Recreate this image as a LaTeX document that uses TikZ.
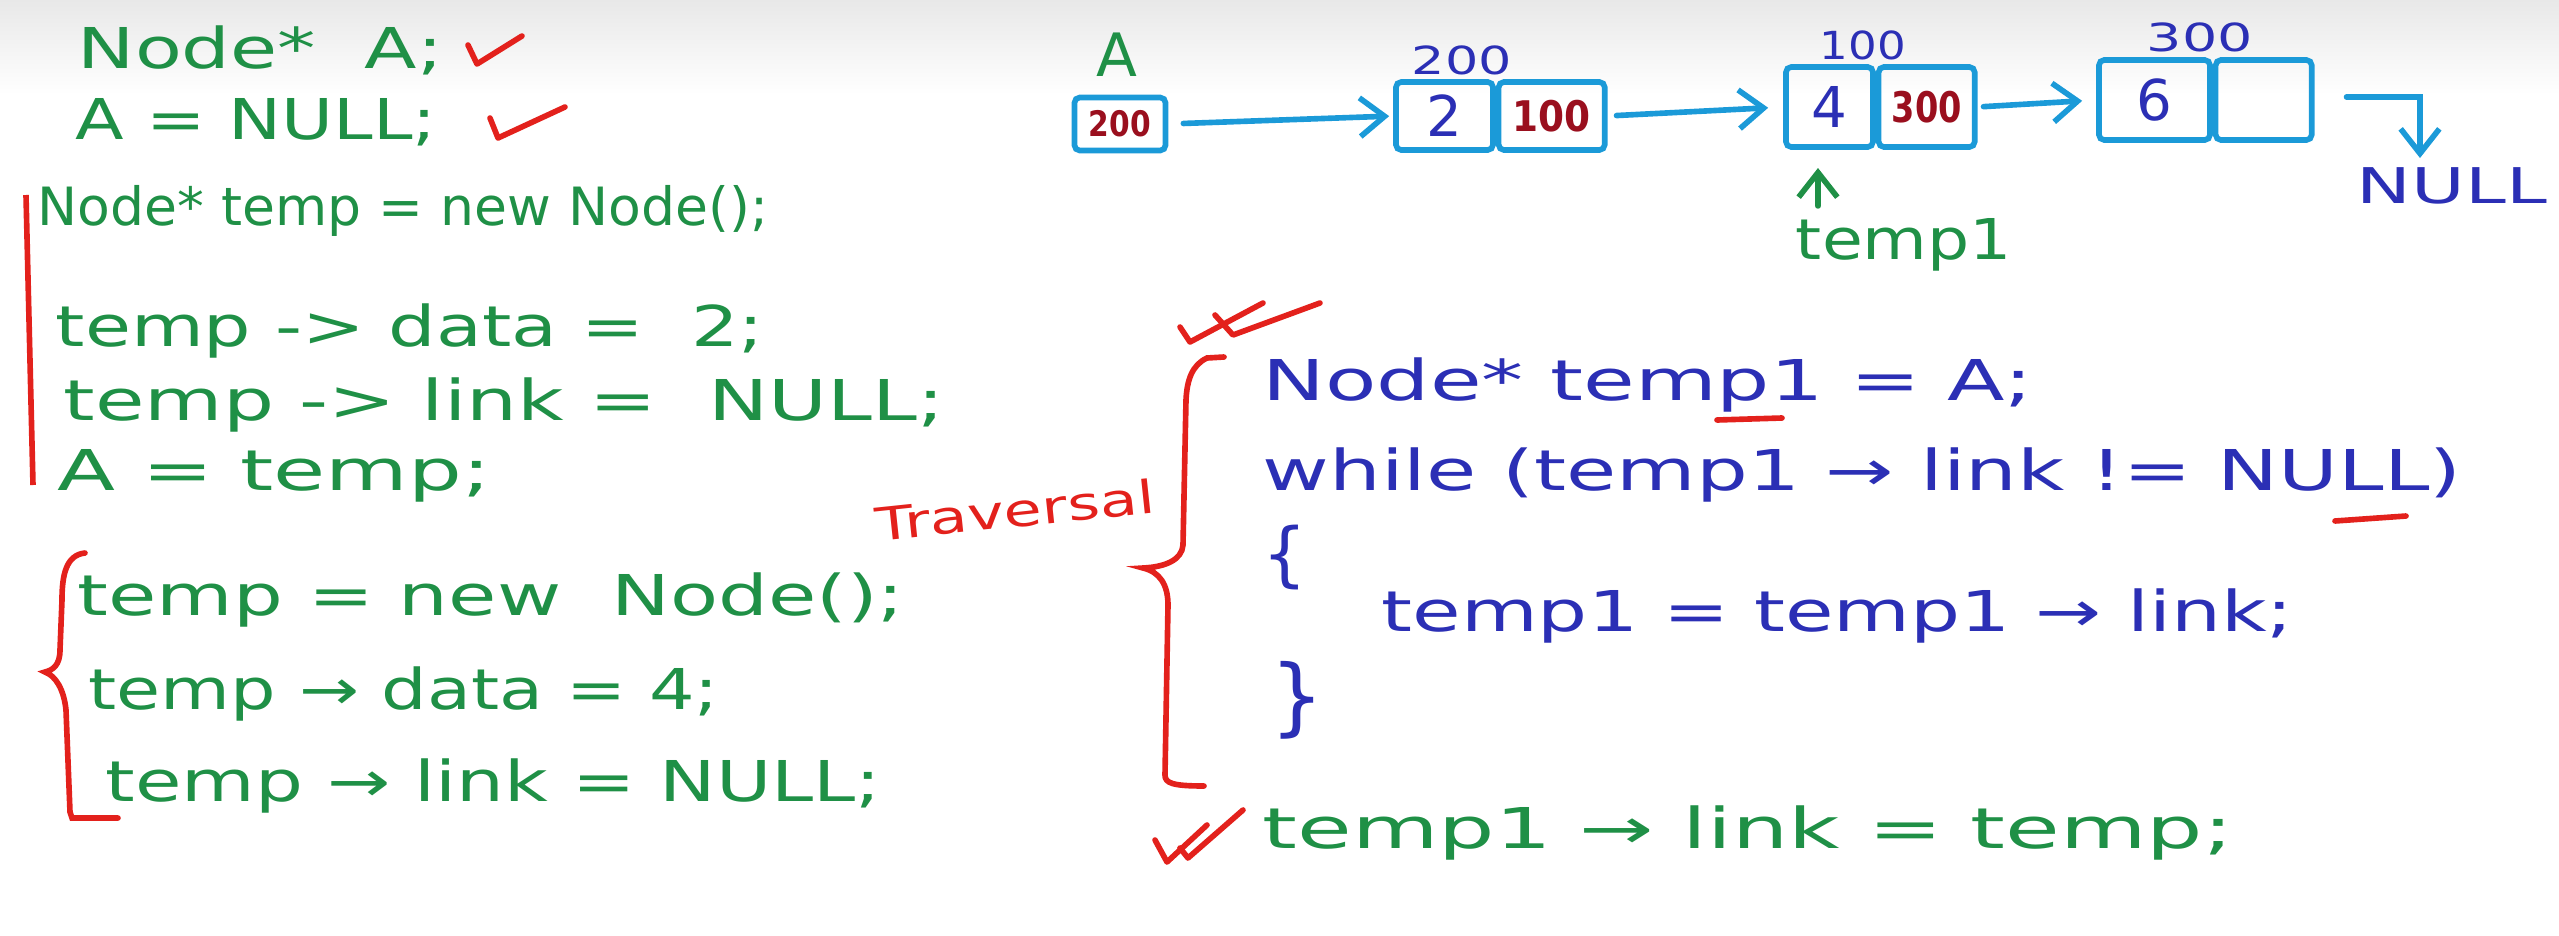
\documentclass[tikz,border=0pt]{standalone}
\usepackage{fontspec}
\setmainfont{DejaVu Sans}
\usepackage{graphicx}
\usepackage{tikz}
\usetikzlibrary{arrows.meta,positioning}
\definecolor{Ink}{HTML}{2B2FB5}
\definecolor{Leaf}{HTML}{1F9046}
\definecolor{Sky}{HTML}{1B9AD8}
\definecolor{Wine}{HTML}{9A0F1E}
\definecolor{Marker}{HTML}{E3211C}
% stretch a handwritten line to the width it takes on the board
\newcommand{\hw}[2]{\resizebox{#1}{\height}{#2}}

\begin{document}
\begin{tikzpicture}[x=0.01cm,y=-0.01cm,
  code/.style={anchor=west,inner sep=0pt,font=\fontsize{16}{18}\selectfont},
  lbl/.style={inner sep=0pt,text=Ink,font=\fontsize{11}{13}\selectfont},
  cell/.style={draw=Sky,line width=1.6pt,rounded corners=1.5pt,inner sep=0pt,
               font=\fontsize{16}{18}\selectfont},
  ptr/.style={text=Wine,font=\fontsize{12}{14}\selectfont\bfseries},
  ar/.style={-{Straight Barb[length=7pt,width=11pt]},Sky,line width=1.6pt,line cap=round},
  tick/.style={Marker,line width=1.6pt,line cap=round,line join=round}]
\useasboundingbox (0,0) rectangle (2559,936);
\shade[top color=black!9,bottom color=white] (0,0) rectangle (2559,95);

% declarations, top left
\node[code,text=Leaf] (decl) at (77,50) {\hw{36.5mm}{Node*\ \ A;}};
\node[code,text=Leaf] (init) at (75,122) {\hw{36.1mm}{A = NULL;}};
\draw[tick] (468,45) -- (477,64) -- (522,36);
\draw[tick] (490,118) -- (498,138) -- (565,107);

% first node
\draw[Marker,line width=1.6pt] (26,195) -- (33,485);
\node[code,text=Leaf,font=\fontsize{15}{17}\selectfont] (s1) at (37,211) {\hw{73mm}{Node* temp = new Node();}};
\node[code,text=Leaf] (s2) at (55,331) {\hw{70.8mm}{temp -> data =\ \ 2;}};
\node[code,text=Leaf] (s3) at (63,405) {\hw{88mm}{temp -> link =\ \ NULL;}};
\node[code,text=Leaf] (s4) at (57,476) {\hw{43.3mm}{A = temp;}};

% second node
\draw[Marker,line width=1.6pt,line cap=round]
  (85,553) .. controls (66,555) and (62,575) .. (62,600) -- (60,650)
  .. controls (60,665) and (53,670) .. (45,672)
  .. controls (56,676) and (64,690) .. (66,710) -- (70,812) -- (72,818) -- (118,818);
\node[code,text=Leaf] (s5) at (77,600) {\hw{82.6mm}{temp = new\ \ Node();}};
\node[code,text=Leaf] (s6) at (88,694) {\hw{63mm}{temp → data = 4;}};
\node[code,text=Leaf] (s7) at (105,786) {\hw{77.5mm}{temp → link = NULL;}};

% the list
\node[text=Leaf,inner sep=0pt,font=\fontsize{17}{19}\selectfont] (hA) at (1117,55) {A};
\node[cell,minimum width=9.1mm,minimum height=5.3mm] (a) at (1120,124)
  {\hw{6.2mm}{\fontsize{10}{12}\selectfont\bfseries\color{Wine}200}};
\node[cell,minimum width=9.7mm,minimum height=6.8mm,text=Ink] (n1d) at (1444.5,116) {2};
\node[cell,right=0pt of n1d,minimum width=10.6mm,minimum height=6.8mm,ptr] (n1l) {\hw{7.8mm}{100}};
\node[cell,minimum width=8.7mm,minimum height=8mm,text=Ink] (n2d) at (1829.5,107) {4};
\node[cell,right=0pt of n2d,minimum width=9.6mm,minimum height=8mm,ptr] (n2l) {\hw{7mm}{300}};
\node[cell,minimum width=11.1mm,minimum height=8mm,text=Ink] (n3d) at (2154.5,100) {6};
\node[cell,right=0pt of n3d,minimum width=9.6mm,minimum height=8mm] (n3l) {};
\node[lbl] at (1462,60) {\hw{10mm}{200}};
\node[lbl] at (1863,45) {\hw{8.6mm}{100}};
\node[lbl] at (2200,37) {\hw{10.6mm}{300}};
\draw[ar,shorten <=1.5mm,shorten >=0.4mm] (a.east) -- (n1d.west);
\draw[ar,shorten <=0.9mm,shorten >=1.5mm] (n1l.east) -- (n2d.west);
\draw[ar,shorten <=0.6mm,shorten >=1.4mm] (n2l.east) -- (n3d.west);
\node[text=Ink,inner sep=0pt,font=\fontsize{14}{16}\selectfont] (nul) at (2452,186) {\hw{19mm}{NULL}};
\coordinate (nulc) at (2420,158);
\draw[ar] ([xshift=3.2mm,yshift=0.3mm]n3l.east) -| (nulc);
\node[text=Leaf,inner sep=0pt,font=\fontsize{16}{18}\selectfont] (t1) at (1904,245) {\hw{21.6mm}{temp1}};
\coordinate (t1c) at (1818,168);
\draw[ar,Leaf] ([yshift=1.2mm]t1.north -| t1c) -- (t1c);

% traversal
\node[rotate=6,text=Marker,inner sep=0pt,font=\fontsize{13}{15}\selectfont] (trav) at (1015,510) {\hw{28mm}{Traversal}};
\draw[Marker,line width=1.6pt,line cap=round]
  (1224,357) -- (1207,358) .. controls (1192,365) and (1187,380) .. (1186,400) -- (1183,545)
  .. controls (1182,560) and (1165,567) .. (1143,568)
  .. controls (1160,572) and (1168,585) .. (1168,605) -- (1165,775)
  .. controls (1165,783) and (1172,786) .. (1204,786);
\draw[tick] (1180,327) -- (1190,342) -- (1263,303);
\draw[tick] (1215,315) -- (1233,335) -- (1320,303);
\node[code,text=Ink] (r1) at (1262,385) {\hw{77mm}{Node* temp1 = A;}};
\node[code,text=Ink] (r2) at (1262,475) {\hw{119.8mm}{while (temp1 → link != NULL)}};
\node[code,text=Ink,font=\fontsize{20}{22}\selectfont] (ob) at (1262,558) {\{};
\node[code,text=Ink] (r3) at (1381,616) {\hw{91.1mm}{temp1 = temp1 → link;}};
\node[code,text=Ink,font=\fontsize{24}{26}\selectfont] (cb) at (1270,700) {\}};
\draw[tick] (1717,420) -- (1782,418);
\draw[tick] (2335,521) -- (2406,516);

% link the new node
\draw[tick] (1155,840) -- (1167,862) -- (1207,825);
\draw[tick] (1180,848) -- (1188,858) -- (1243,810);
\node[code,text=Leaf] (r4) at (1262,833) {\hw{97mm}{temp1 → link = temp;}};
\end{tikzpicture}
\end{document}
